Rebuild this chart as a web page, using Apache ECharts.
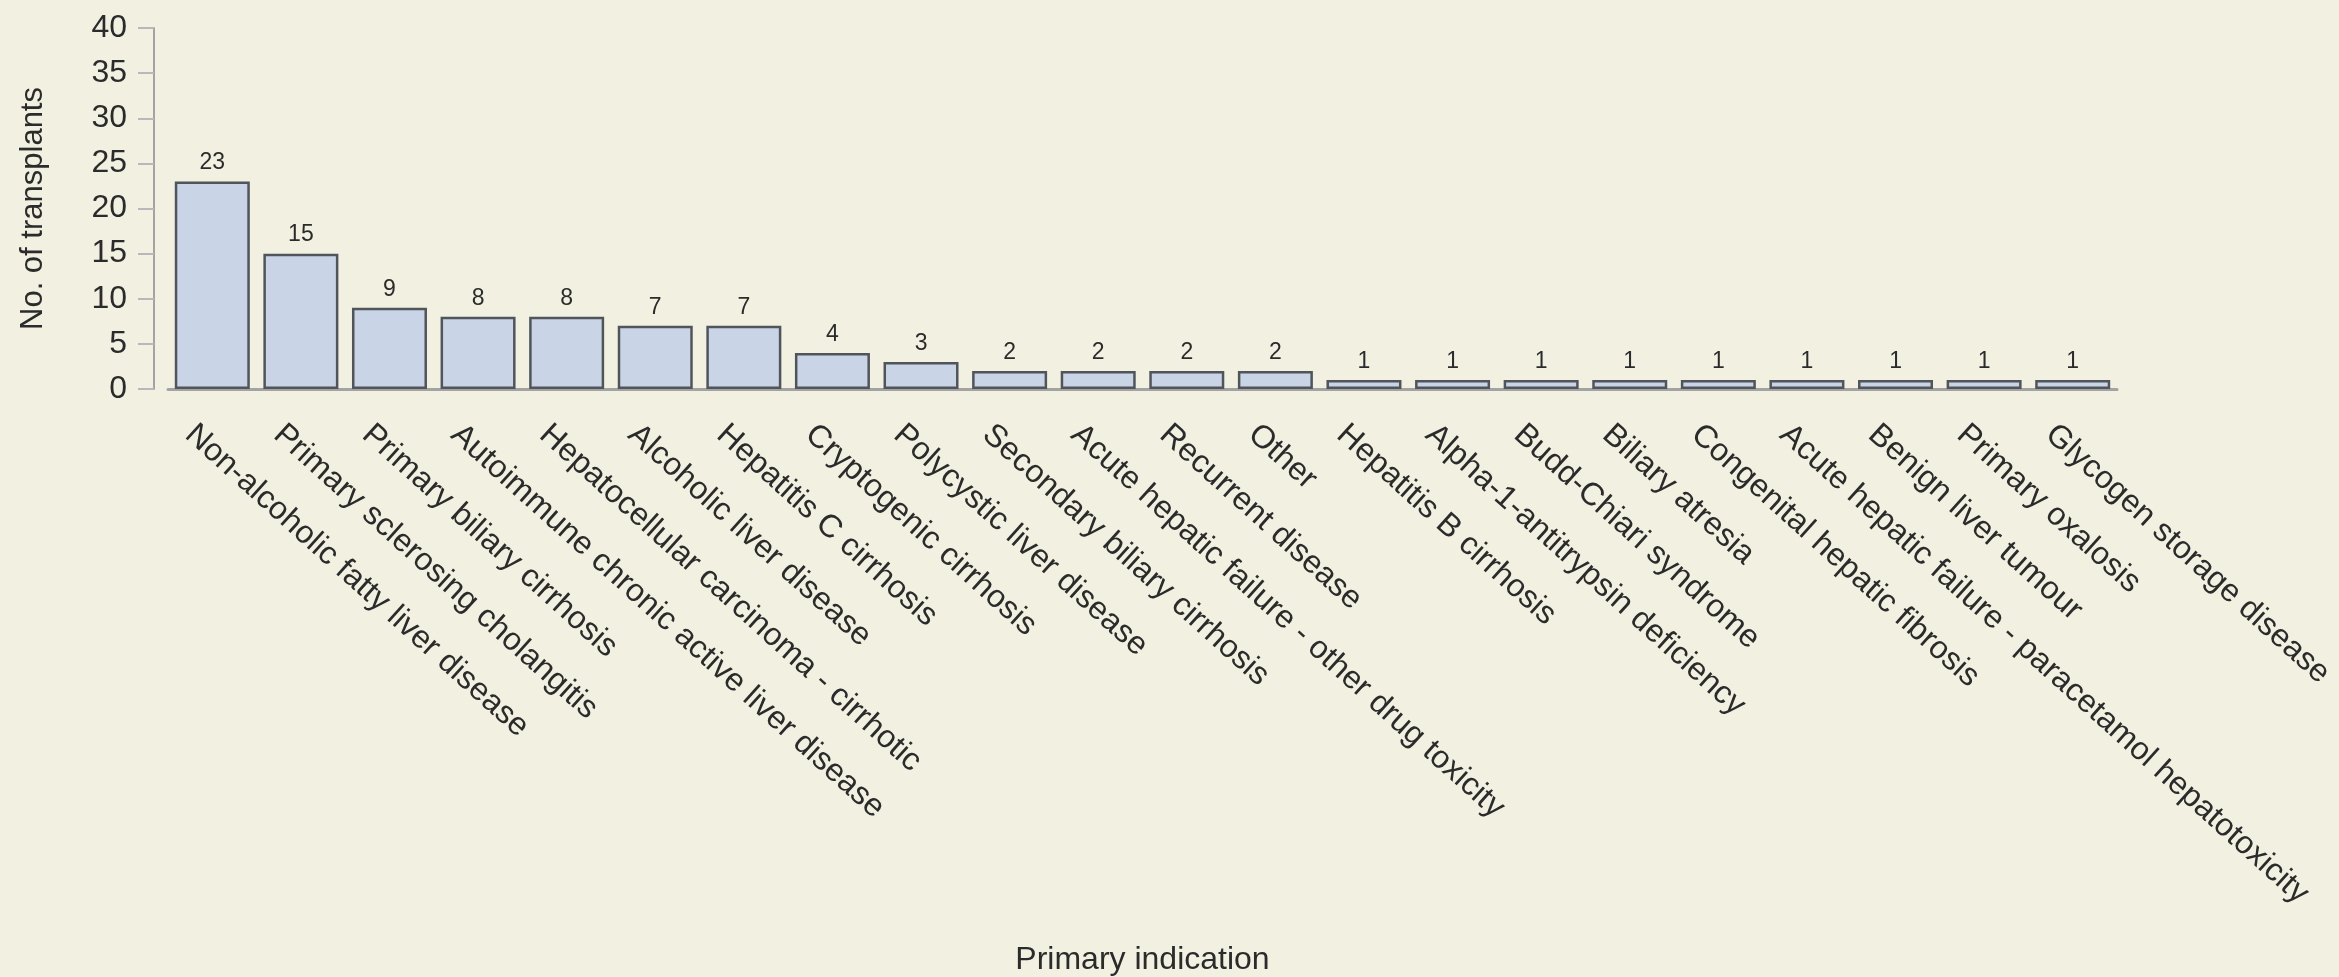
<!DOCTYPE html>
<html>
<head>
<meta charset="utf-8">
<script src="https://cdn.jsdelivr.net/npm/echarts@6/dist/echarts.min.js"></script>
<style>
  html, body { margin: 0; padding: 0; background: #f2f1e1; }
  #chart { width: 2339px; height: 977px; }
</style>
</head>
<body>
<div id="chart"></div>
<script>
const categories = [
  'Non-alcoholic fatty liver disease',
  'Primary sclerosing cholangitis',
  'Primary biliary cirrhosis',
  'Autoimmune chronic active liver disease',
  'Hepatocellular carcinoma - cirrhotic',
  'Alcoholic liver disease',
  'Hepatitis C cirrhosis',
  'Cryptogenic cirrhosis',
  'Polycystic liver disease',
  'Secondary biliary cirrhosis',
  'Acute hepatic failure - other drug toxicity',
  'Recurrent disease',
  'Other',
  'Hepatitis B cirrhosis',
  'Alpha-1-antitrypsin deficiency',
  'Budd-Chiari syndrome',
  'Biliary atresia',
  'Congenital hepatic fibrosis',
  'Acute hepatic failure - paracetamol hepatotoxicity',
  'Benign liver tumour',
  'Primary oxalosis',
  'Glycogen storage disease'
]
const transplants = [23, 15, 9, 8, 8, 7, 7, 4, 3, 2, 2, 2, 2, 1, 1, 1, 1, 1, 1, 1, 1, 1]

const yMin = 0
const yMax = 40
const yStep = 5

const font = '"Liberation Sans", Arial, sans-serif'
const textColor = '#2b2b2b'
const axisColor = '#a3a3a3'

const chart = echarts.init(document.getElementById('chart'))

const option = {
  backgroundColor: '#f2f1e1',
  animation: false,
  textStyle: { fontFamily: font },
  grid: {
    left: 168,
    right: 222,
    top: 28,
    bottom: 588,
    containLabel: false
  },
  xAxis: {
    type: 'category',
    data: categories,
    name: 'Primary indication',
    nameLocation: 'middle',
    nameGap: 555,
    nameTextStyle: { fontSize: 32, color: textColor, fontFamily: font },
    axisLine: { lineStyle: { color: axisColor, width: 3 } },
    axisTick: {
      alignWithLabel: true,
      length: 14,
      lineStyle: { color: '#b8b8b8', width: 2 }
    },
    axisLabel: {
      rotate: -42,
      interval: 0,
      margin: 16,
      verticalAlign: 'top',
      padding: [18, 0, 0, 0],
      fontSize: 32,
      color: textColor,
      fontFamily: font
    }
  },
  yAxis: {
    type: 'value',
    min: yMin,
    max: yMax,
    interval: yStep,
    offset: 14,
    name: 'No. of transplants',
    nameLocation: 'middle',
    nameGap: 105,
    nameTextStyle: { fontSize: 31, color: textColor, fontFamily: font },
    axisLine: { show: true, lineStyle: { color: axisColor, width: 2 } },
    axisTick: { show: true, length: 16, lineStyle: { color: '#b8b8b8', width: 2 } },
    axisLabel: { fontSize: 32, color: textColor, margin: 27, fontFamily: font },
    splitLine: { show: false }
  },
  series: [
    {
      name: 'Transplants',
      type: 'bar',
      data: transplants,
      barWidth: 75,
      itemStyle: {
        color: '#c9d5e6',
        borderColor: '#50555b',
        borderWidth: 2.5
      },
      label: {
        show: true,
        position: 'top',
        distance: 7,
        fontSize: 23,
        color: textColor,
        fontFamily: font
      }
    }
  ]
}

chart.setOption(option)
</script>
</body>
</html>
